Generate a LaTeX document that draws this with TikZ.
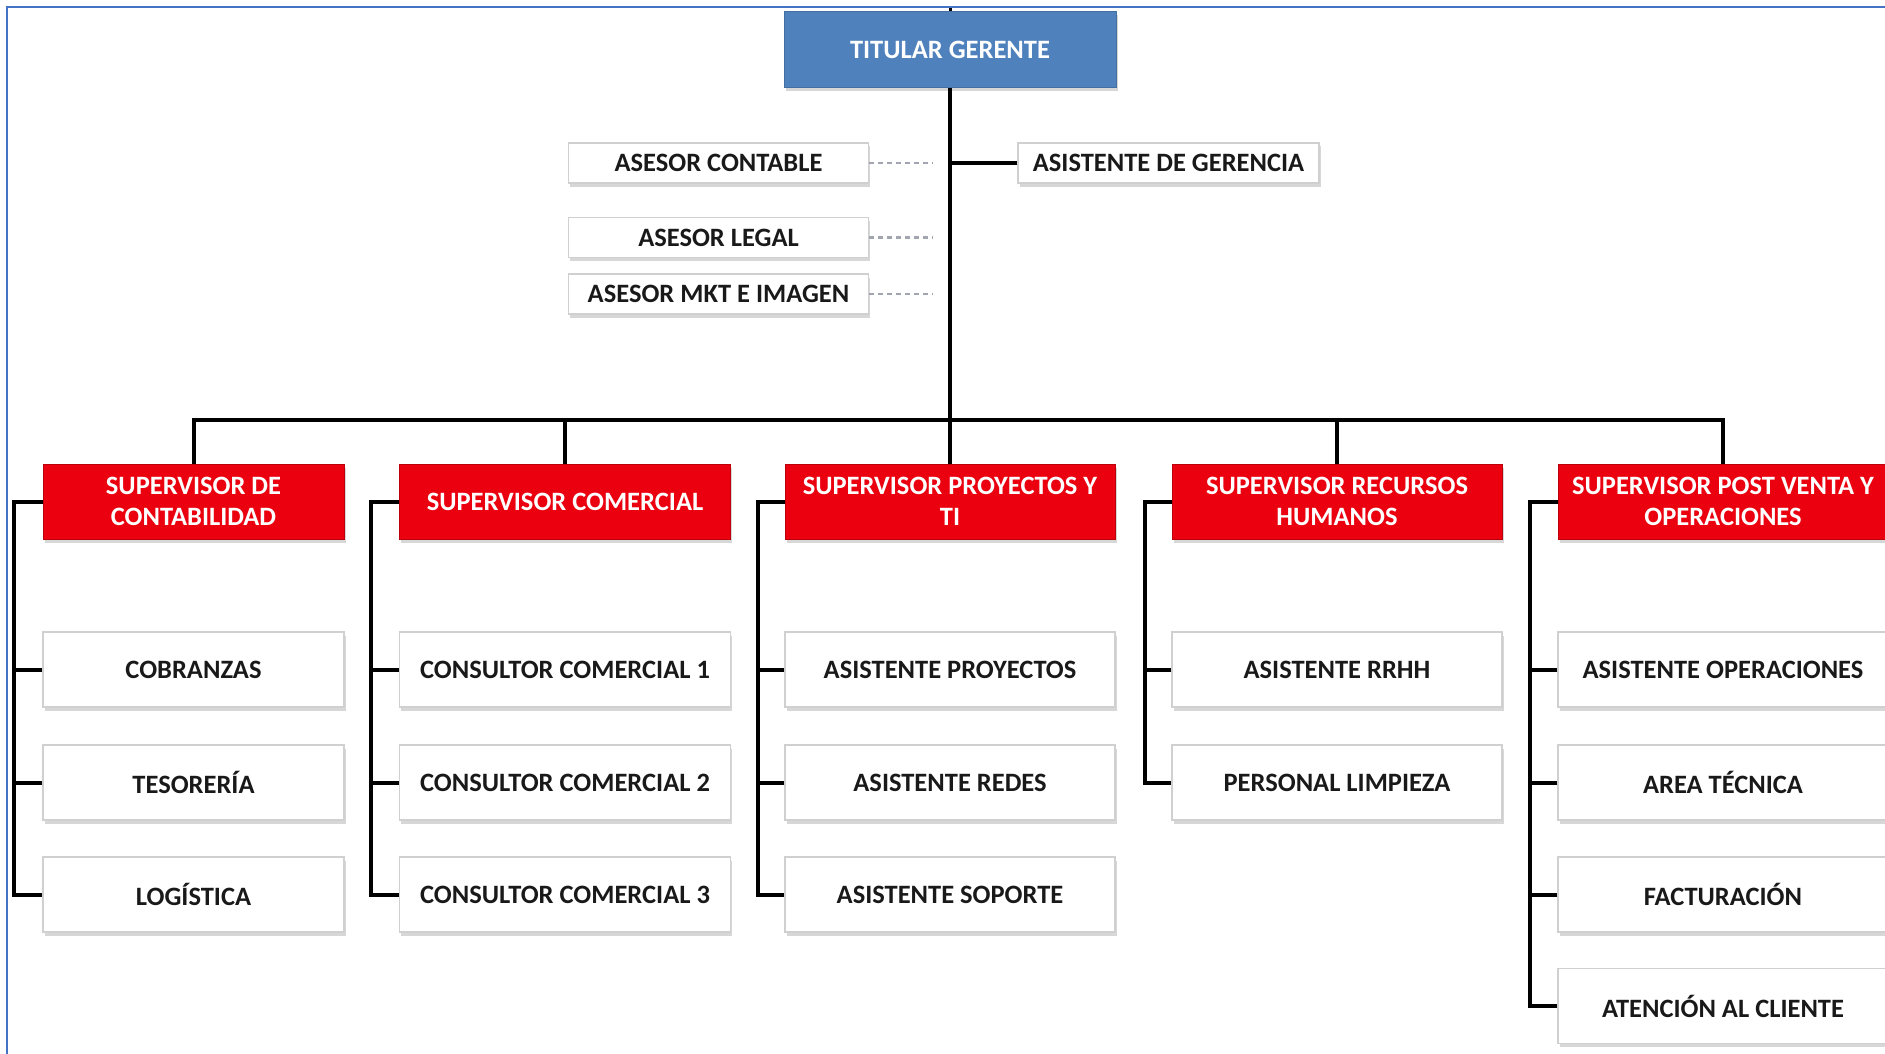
\documentclass[tikz,border=0pt]{standalone}
\usepackage{fontspec}
\setmainfont{Carlito}
\usetikzlibrary{shadows}
\definecolor{supred}{RGB}{234,0,14}
\definecolor{titblue}{RGB}{79,129,189}
\definecolor{framblue}{RGB}{68,114,196}
\definecolor{boxgray}{RGB}{208,208,208}
\definecolor{dashgray}{RGB}{160,165,175}
\begin{document}
\begin{tikzpicture}[x=1pt,y=-1pt,
  every node/.style={font=\fontsize{26.5}{31}\selectfont\bfseries, align=center, inner sep=0pt},
  shad/.style={drop shadow={shadow xshift=1.5pt, shadow yshift=-3.5pt, opacity=0.22, fill=black!70}},
  titlebox/.style={rectangle, fill=titblue, draw=titblue!85!black, line width=1pt, text=white, minimum width=332pt, minimum height=76pt, shad},
  supbox/.style={rectangle, fill=supred, draw=supred!80!black, line width=0.8pt, text=white, minimum height=75pt, shad},
  childbox/.style={rectangle, fill=white, draw=boxgray, line width=1.2pt, text=black!90, minimum height=75pt, shad},
  asebox/.style={rectangle, fill=white, draw=boxgray, line width=1.2pt, text=black!90, minimum height=40pt, minimum width=300pt, shad},
  conn/.style={draw=black, line width=4pt, line join=miter},
  dashconn/.style={draw=dashgray, line width=2.5pt, dash pattern=on 5pt off 4pt}
]
\useasboundingbox (0,0) rectangle (1885,1054);
\fill[white] (0,0) rectangle (1885,1054);
\draw[framblue, line width=2pt] (7,1056) -- (7,7) -- (1890,7);

% title
\node[titlebox] (tit) at (950,50) {TITULAR GERENTE};
\coordinate (ttop) at (950,8);
\draw[conn, line width=3pt] (ttop) -- (tit.north);

% advisors
\node[asebox] (ac) at (718.5,163) {ASESOR CONTABLE};
\node[asebox] (al) at (718.5,237.5) {ASESOR LEGAL};
\node[asebox] (am) at (718.5,294) {ASESOR MKT E IMAGEN};
\node[asebox, minimum width=301pt] (ag) at (1168.5,163) {ASISTENTE DE GERENCIA};
\coordinate (acend) at (933,163);
\coordinate (alend) at (933,237.5);
\coordinate (amend) at (933,294);
\draw[dashconn] (ac.east) -- (acend);
\draw[dashconn] (al.east) -- (alend);
\draw[dashconn] (am.east) -- (amend);

% supervisors
\node[supbox, minimum width=301pt] (s1) at (193.5,501.5) {SUPERVISOR DE\\CONTABILIDAD};
\node[supbox, minimum width=331pt] (s2) at (565,501.5) {SUPERVISOR COMERCIAL};
\node[supbox, minimum width=330pt] (s3) at (950,501.5) {SUPERVISOR PROYECTOS Y\\TI};
\node[supbox, minimum width=330pt] (s4) at (1337,501.5) {SUPERVISOR RECURSOS\\HUMANOS};
\node[supbox, minimum width=330pt] (s5) at (1723,501.5) {SUPERVISOR POST VENTA Y\\OPERACIONES};

% children
\node[childbox, minimum width=301pt] (c11) at (193.5,669.5) {COBRANZAS};
\node[childbox, minimum width=301pt] (c12) at (193.5,782.5) {TESORERÍA};
\node[childbox, minimum width=301pt] (c13) at (193.5,894.5) {LOGÍSTICA};

\node[childbox, minimum width=331pt] (c21) at (565,669.5) {CONSULTOR COMERCIAL 1};
\node[childbox, minimum width=331pt] (c22) at (565,782.5) {CONSULTOR COMERCIAL 2};
\node[childbox, minimum width=331pt] (c23) at (565,894.5) {CONSULTOR COMERCIAL 3};

\node[childbox, minimum width=330pt] (c31) at (950,669.5) {ASISTENTE PROYECTOS};
\node[childbox, minimum width=330pt] (c32) at (950,782.5) {ASISTENTE REDES};
\node[childbox, minimum width=330pt] (c33) at (950,894.5) {ASISTENTE SOPORTE};

\node[childbox, minimum width=330pt] (c41) at (1337,669.5) {ASISTENTE RRHH};
\node[childbox, minimum width=330pt] (c42) at (1337,782.5) {PERSONAL LIMPIEZA};

\node[childbox, minimum width=330pt] (c51) at (1723,669.5) {ASISTENTE OPERACIONES};
\node[childbox, minimum width=330pt] (c52) at (1723,782.5) {AREA TÉCNICA};
\node[childbox, minimum width=330pt] (c53) at (1723,894.5) {FACTURACIÓN};
\node[childbox, minimum width=330pt] (c54) at (1723,1006) {ATENCIÓN AL CLIENTE};

% main trunk and bus
\draw[conn] (tit.south) -- (s3.north);
\draw[conn] (ag.west) -- (ag.west -| tit.south);
\coordinate (bus) at (950,420);
\draw[conn] (s1.north) |- (bus) -| (s5.north);
\draw[conn] (s2.north) -- (s2.north |- bus);
\draw[conn] (s4.north) -- (s4.north |- bus);

% brackets
\draw[conn] (s1.west) -- ++(-29,0) |- (c13.west);
\draw[conn] (c11.west) -- ++(-29,0);
\draw[conn] (c12.west) -- ++(-29,0);

\draw[conn] (s2.west) -- ++(-28,0) |- (c23.west);
\draw[conn] (c21.west) -- ++(-28,0);
\draw[conn] (c22.west) -- ++(-28,0);

\draw[conn] (s3.west) -- ++(-27,0) |- (c33.west);
\draw[conn] (c31.west) -- ++(-27,0);
\draw[conn] (c32.west) -- ++(-27,0);

\draw[conn] (s4.west) -- ++(-27,0) |- (c42.west);
\draw[conn] (c41.west) -- ++(-27,0);

\draw[conn] (s5.west) -- ++(-28,0) |- (c54.west);
\draw[conn] (c51.west) -- ++(-28,0);
\draw[conn] (c52.west) -- ++(-28,0);
\draw[conn] (c53.west) -- ++(-28,0);
\end{tikzpicture}
\end{document}
